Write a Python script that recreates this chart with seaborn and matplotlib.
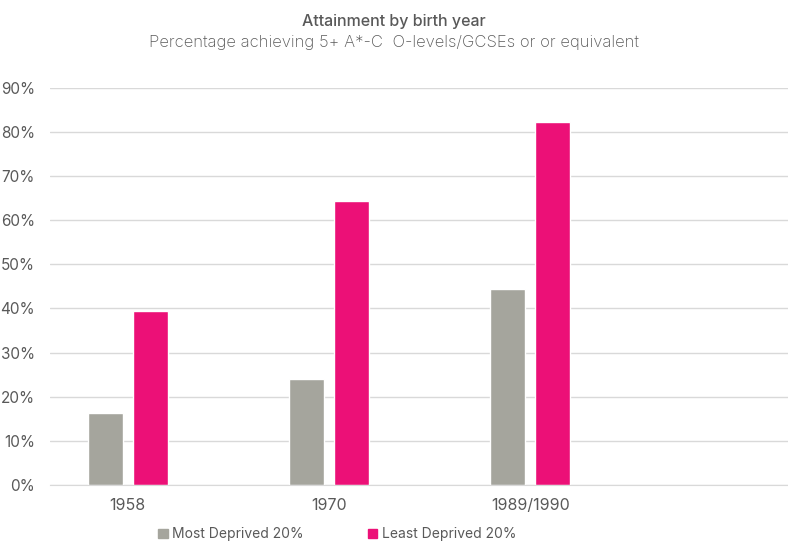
import pandas as pd
import numpy as np
import matplotlib.pyplot as plt
import seaborn as sns

# Data
birth_years = ['1958', '1970', '1989/1990']
most_deprived = [16.3, 24.0, 44.4]
least_deprived = [39.5, 64.4, 82.2]
series_names = ['Most Deprived 20%', 'Least Deprived 20%']

df = pd.DataFrame({
    'Birth year': birth_years * 2,
    'Group': [series_names[0]] * 3 + [series_names[1]] * 3,
    'Value': most_deprived + least_deprived,
})

sns.set_style('white')
plt.rcParams['font.family'] = ['Inter', 'DejaVu Sans']

fig = plt.figure(figsize=(7.88, 5.43), dpi=100)
ax = fig.add_axes([0.0635, 0.1068, 0.9365, 0.7316])

palette = {series_names[0]: '#A5A59D', series_names[1]: '#EC1077'}
sns.barplot(data=df, x='Birth year', y='Value', hue='Group', palette=palette,
            width=0.447, gap=0.22, ax=ax, legend=False, saturation=1)

ax.set_ylim(0, 90)
ax.set_xlim(-0.385, 3.28)
ax.set_yticks(np.arange(0, 91, 10))
ax.set_yticklabels([f'{v}%' for v in range(0, 91, 10)])
ax.yaxis.grid(True, color='#D9D9D9', linewidth=1)
ax.set_axisbelow(True)
for s in ['top', 'right', 'left']:
    ax.spines[s].set_visible(False)
ax.spines['bottom'].set_color('#D9D9D9')
ax.tick_params(axis='y', length=0, labelsize=11, colors='#595959', pad=11)
ax.tick_params(axis='x', length=0, labelsize=11.5, colors='#595959', pad=9)
ax.set_xlabel('')
ax.set_ylabel('')

fig.text(0.5, 0.975, 'Attainment by birth year', ha='center', va='top',
         fontsize=11.5, color='#595959', fontweight='medium')
fig.text(0.5, 0.935, 'Percentage achieving 5+ A*-C  O-levels/GCSEs or or equivalent',
         ha='center', va='top', fontsize=12, color='#595959', fontweight='light')

handles = [plt.Rectangle((0, 0), 1, 1, color=palette[n]) for n in series_names]
leg = fig.legend(handles, series_names, loc='center', bbox_to_anchor=(0.428, 0.016),
                 ncol=2, frameon=False, fontsize=10, handlelength=0.7,
                 handleheight=0.7, handletextpad=0.3, columnspacing=4.6)
for t in leg.get_texts():
    t.set_color('#595959')

fig.savefig('out.png', dpi=100)
